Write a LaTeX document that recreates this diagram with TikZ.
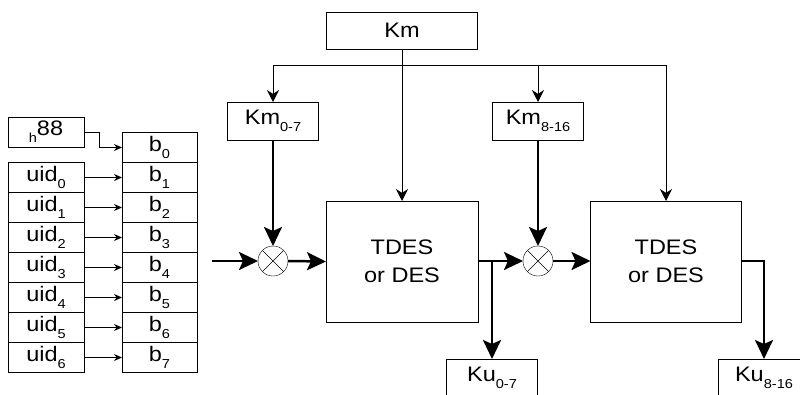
\documentclass[tikz,border=0pt]{standalone}
\usepackage{fontspec}
\setmainfont[FakeStretch=1.12]{Liberation Sans}
\usetikzlibrary{
    positioning,
    arrows.meta,
    calc
}
\newcommand{\subtxt}[1]{\raisebox{-7pt}{\fontsize{13}{13}\selectfont #1}}
\tikzset{
    box/.style={draw, thick, inner sep=0pt, outer sep=0pt, align=center,
        font=\fontsize{21}{28}\selectfont},
    xor/.style={draw, circle, thin, minimum size=30pt, inner sep=0pt, outer sep=0pt},
    thinline/.style={line width=1pt, -{Stealth[length=8pt, width=7pt]}},
    keyline/.style={line width=1pt, -{Stealth[length=12pt, width=12pt]}},
    dataline/.style={line width=2.5pt, -{Stealth[length=19pt, width=18pt, inset=4pt]}}
}

\begin{document}
\begin{tikzpicture}[x=1pt, y=-1pt]
            \useasboundingbox (0,0) rectangle (800,394);

            % key and its two halves
            \node[box, minimum width=151pt, minimum height=37pt] (km) at (402,30.5) {Km};
            \node[box, minimum width=91pt, minimum height=38pt] (km0) at (273,121) {Km\subtxt{0-7}};
            \node[box, minimum width=91pt, minimum height=38pt] (km8) at (538,121) {Km\subtxt{8-16}};

            % the two ciphers
            \node[box, minimum width=152pt, minimum height=121pt] (tdes1) at (402,261.5) {TDES\\or DES};
            \node[box, minimum width=151pt, minimum height=121pt] (tdes2) at (666,261.5) {TDES\\or DES};

            \node[xor] (x1) at (273,261) {};
            \node[xor] (x2) at (538,261) {};
            \draw[thin] (x1.north west) -- (x1.south east) (x1.north east) -- (x1.south west);
            \draw[thin] (x2.north west) -- (x2.south east) (x2.north east) -- (x2.south west);

            % outputs
            \node[box, minimum width=91pt, minimum height=38pt] (ku0) at (492,378) {Ku\subtxt{0-7}};
            \node[box, minimum width=91pt, minimum height=38pt] (ku8) at (764,378) {Ku\subtxt{8-16}};

            % input block
            \node[box, minimum width=76pt, minimum height=30pt] (h88) at (46,132) {\subtxt{h}88};
            \foreach \i in {0,...,7} {
                \node[box, minimum width=75pt, minimum height=30pt] (b\i) at (159.5,147.5+30*\i) {b\subtxt{\i}};
            }
            \foreach \i [evaluate=\i as \j using int(\i+1)] in {0,...,6} {
                \node[box, minimum width=76pt, minimum height=30pt] (uid\i) at (46,177.5+30*\i) {uid\subtxt{\i}};
                \draw[thinline] (uid\i.east) -- (b\j.west);
            }
            \draw[thinline] (h88.east) -- ++(15,0) |- (b0.west);

            % key distribution
            \coordinate (ksplit) at (402,65);
            \draw[keyline] (km.south) -- (tdes1.north);
            \draw[keyline] (ksplit) -| (km0.north);
            \draw[keyline] (ksplit) -| (km8.north);
            \draw[keyline] (ksplit) -| (tdes2.north);

            % data path
            \coordinate (in) at (212,261);
            \coordinate (tap1) at (492,261);
            \draw[dataline] (in) -- (x1.west);
            \draw[dataline] (km0.south) -- (x1.north);
            \draw[dataline] (x1.east) -- (tdes1.west);
            \draw[dataline] (tdes1.east |- x2) -- (x2.west);
            \draw[dataline] (km8.south) -- (x2.north);
            \draw[dataline] (x2.east) -- (tdes2.west |- x2);
            \draw[dataline] (tap1) -- (ku0.north);
            \draw[dataline] (tdes2.east |- x2) -| (ku8.north);
        \end{tikzpicture}
\end{document}
